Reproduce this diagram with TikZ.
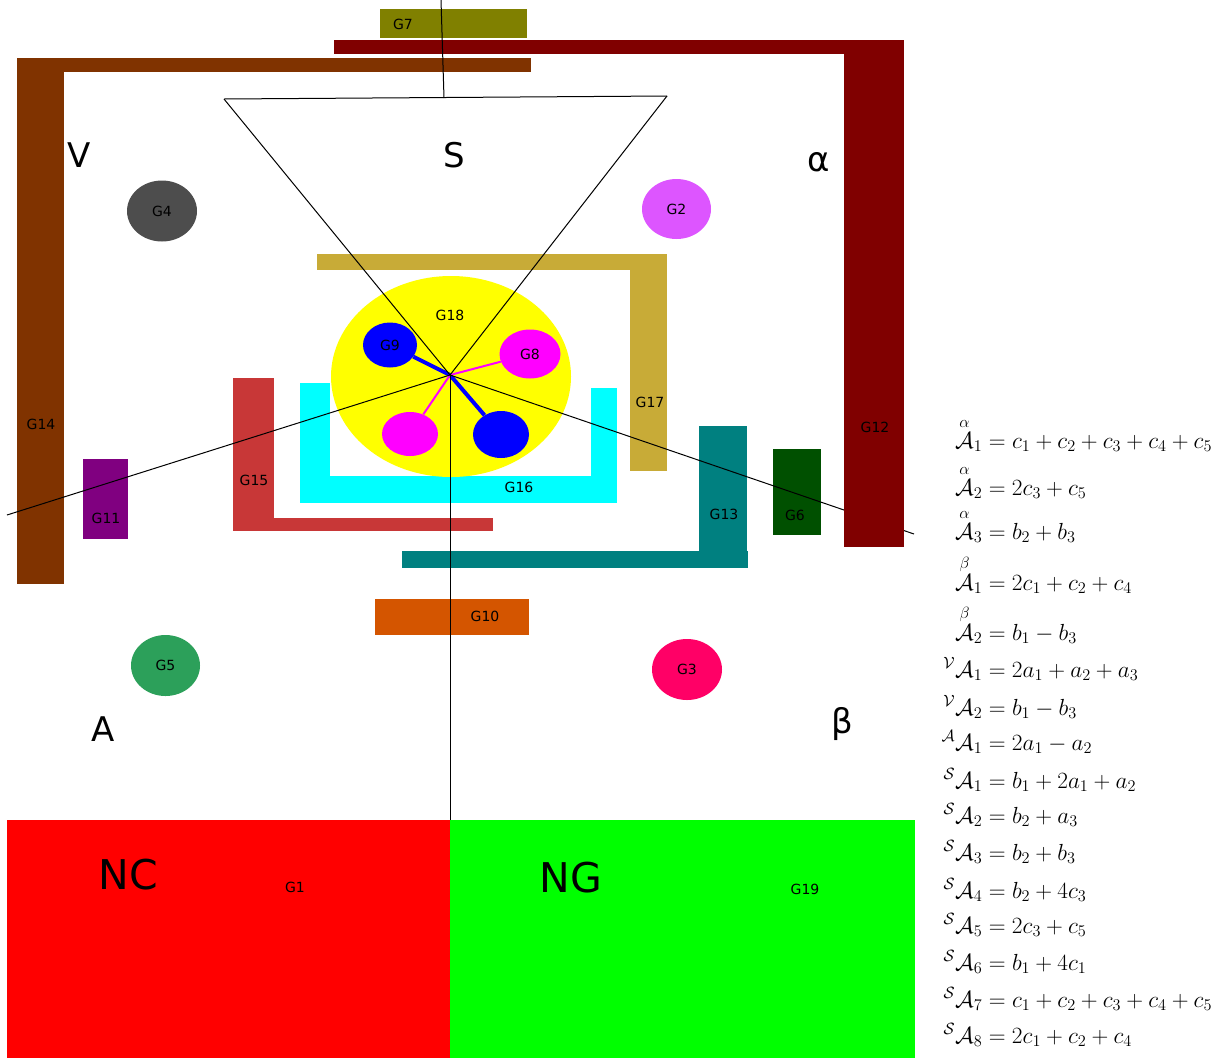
\RequirePackage{fix-cm}
\documentclass[tikz,border=0pt]{standalone}
\usepackage{fontspec}
\usepackage{amsmath}
\newfontfamily\dejavu{DejaVu Sans}
\usetikzlibrary{shapes.geometric}
\definecolor{cG7}{HTML}{808000}
\definecolor{cG12}{HTML}{800000}
\definecolor{cG14}{HTML}{803300}
\definecolor{cG17}{HTML}{C8AB37}
\definecolor{cG15}{HTML}{C83737}
\definecolor{cG13}{HTML}{008080}
\definecolor{cG6}{HTML}{005000}
\definecolor{cG11}{HTML}{800080}
\definecolor{cG10}{HTML}{D45500}
\definecolor{cG4}{HTML}{4D4D4D}
\definecolor{cG2}{HTML}{DD55FF}
\definecolor{cG5}{HTML}{2CA05A}
\definecolor{cG3}{HTML}{FF0066}
\definecolor{pcyan}{HTML}{00FFFF}
\definecolor{pmag}{HTML}{FF00FF}
\definecolor{pyel}{HTML}{FFFF00}
\definecolor{pblue}{HTML}{0000FF}
\definecolor{pred}{HTML}{FF0000}
\definecolor{pgreen}{HTML}{00FF00}
\begin{document}
\begin{tikzpicture}[x=1pt,y=-1pt,
  glab/.style={font=\dejavu\fontsize{14}{16}\selectfont, inner sep=0pt},
  biglab/.style={font=\dejavu\fontsize{34}{40}\selectfont, inner sep=0pt},
  ncl/.style={font=\dejavu\fontsize{41}{48}\selectfont, inner sep=0pt},
  blob/.style={ellipse, draw=none, inner sep=0pt, font=\dejavu\fontsize{14}{16}\selectfont},
  fml/.style={anchor=base west, inner sep=0pt, font=\fontsize{23.3}{28}\selectfont},
  ray/.style={draw=black, line width=1pt}]
\useasboundingbox (0,0) rectangle (1231,1061);
% top bars
\fill[cG7] (380,9) rectangle (527,38);
\fill[cG12] (334,40) rectangle (904,54);
\fill[cG14] (17,58) rectangle (531,72);
\fill[cG14] (17,58) rectangle (64,584);
% G17
\fill[cG17] (317,254) rectangle (667,270);
\fill[cG17] (630,254) rectangle (667,471);
% G16
\fill[pcyan] (300,383) rectangle (330,503);
\fill[pcyan] (300,476) rectangle (617,503);
\fill[pcyan] (591,388) rectangle (617,503);
% G18 and inner blobs
\node[blob, fill=pyel, minimum width=240, minimum height=201] (g18) at (451,376.5) {};
\coordinate (ctr) at (450,375);
\node[blob, fill=pblue, minimum width=54, minimum height=45] (g9) at (390,345) {G9};
\node[blob, fill=pmag, minimum width=61, minimum height=49] (g8) at (530,354) {G8};
\node[blob, fill=pmag, minimum width=56, minimum height=44] (m2) at (410,434) {};
\node[blob, fill=pblue, minimum width=56, minimum height=47] (b2) at (501,434.5) {};
\draw[pblue, line width=4pt] (g9) -- (ctr) -- (b2);
\draw[pmag, line width=2pt] (g8) -- (ctr) -- (m2);
% G15
\fill[cG15] (233,378) rectangle (274,531);
\fill[cG15] (233,518) rectangle (493,531);
% G13
\fill[cG13] (699,426) rectangle (747,568);
\fill[cG13] (402,551) rectangle (748,568);
% G6, G11, G10
\fill[cG6] (773,449) rectangle (821,535);
\fill[cG11] (83,459) rectangle (128,539);
\fill[cG10] (375,599) rectangle (529,635);
% round ones
\node[blob, fill=cG4, minimum width=70, minimum height=61] (g4) at (162,211) {G4};
\node[blob, fill=cG2, minimum width=69, minimum height=60] (g2) at (676.5,209) {G2};
\node[blob, fill=cG5, minimum width=69, minimum height=61] (g5) at (165.5,665.5) {G5};
\node[blob, fill=cG3, minimum width=70, minimum height=61] (g3) at (687,669.5) {G3};
% bottom blocks
\fill[pred] (7,820) rectangle (450,1058);
\fill[pgreen] (450,820) rectangle (915,1058);
% rays
\coordinate (tl) at (224,99);
\coordinate (tr) at (667,96);
\coordinate (tm) at (444,98);
\coordinate (top) at (441,0);
\coordinate (lft) at (7,515);
\coordinate (rgt) at (914,534);
\coordinate (bot) at (450,820);
\draw[ray] (tl) -- (tr);
\draw[ray] (tl) -- (ctr);
\draw[ray] (tr) -- (ctr);
\draw[ray] (top) -- (tm);
\draw[ray] (ctr) -- (lft);
\draw[ray] (ctr) -- (rgt);
\draw[ray] (ctr) -- (bot);
% G12 vertical on top
\fill[cG12] (844,40) rectangle (904,547);
% labels
\node[glab] (lg7) at (403,24) {G7};
\node[glab] (lg12) at (875,427) {G12};
\node[glab] (lg14) at (41,424) {G14};
\node[glab] (lg17) at (650,402) {G17};
\node[glab] (lg13) at (724,514) {G13};
\node[glab] (lg6) at (795,515) {G6};
\node[glab] (lg11) at (106,518) {G11};
\node[glab] (lg15) at (254,480) {G15};
\node[glab] (lg16) at (519,487) {G16};
\node[glab] (lg10) at (485,616) {G10};
\node[glab] (lg18) at (450,315) {G18};
\node[glab] (lg1) at (295,887) {G1};
\node[glab] (lg19) at (805,889) {G19};
\node[biglab] (lv) at (79,155) {V};
\node[biglab] (ls) at (454,155) {S};
\node[biglab] (lal) at (819,162) {α};
\node[biglab] (la) at (103,729) {A};
\node[biglab] (lb) at (842,724) {β};
\node[ncl] (lnc) at (128,875) {NC};
\node[ncl] (lng) at (571,878) {NG};
% formulas
\node[fml] (f1) at (955,448) {$\overset{\alpha}{\mathcal{A}}_1 = c_1+c_2+c_3+c_4+c_5$};
\node[fml] (f2) at (955,495) {$\overset{\alpha}{\mathcal{A}}_2 = 2c_3+c_5$};
\node[fml] (f3) at (955,539) {$\overset{\alpha}{\mathcal{A}}_3 = b_2+b_3$};
\node[fml] (f4) at (955,590) {$\overset{\beta}{\mathcal{A}}_1 = 2c_1+c_2+c_4$};
\node[fml] (f5) at (955,640) {$\overset{\beta}{\mathcal{A}}_2 = b_1-b_3$};
\node[fml] (f6) at (955,677) {$\llap{$^{\mathcal{V}}$}\mathcal{A}_1 = 2a_1+a_2+a_3$};
\node[fml] (f7) at (955,715) {$\llap{$^{\mathcal{V}}$}\mathcal{A}_2 = b_1-b_3$};
\node[fml] (f8) at (955,750) {$\llap{$^{\mathcal{A}}$}\mathcal{A}_1 = 2a_1-a_2$};
\node[fml] (f9) at (955,788) {$\llap{$^{\mathcal{S}}$}\mathcal{A}_1 = b_1+2a_1+a_2$};
\node[fml] (f10) at (955,823) {$\llap{$^{\mathcal{S}}$}\mathcal{A}_2 = b_2+a_3$};
\node[fml] (f11) at (955,860) {$\llap{$^{\mathcal{S}}$}\mathcal{A}_3 = b_2+b_3$};
\node[fml] (f12) at (955,898) {$\llap{$^{\mathcal{S}}$}\mathcal{A}_4 = b_2+4c_3$};
\node[fml] (f13) at (955,933) {$\llap{$^{\mathcal{S}}$}\mathcal{A}_5 = 2c_3+c_5$};
\node[fml] (f14) at (955,970) {$\llap{$^{\mathcal{S}}$}\mathcal{A}_6 = b_1+4c_1$};
\node[fml] (f15) at (955,1007) {$\llap{$^{\mathcal{S}}$}\mathcal{A}_7 = c_1+c_2+c_3+c_4+c_5$};
\node[fml] (f16) at (955,1043) {$\llap{$^{\mathcal{S}}$}\mathcal{A}_8 = 2c_1+c_2+c_4$};
\end{tikzpicture}
\end{document}
